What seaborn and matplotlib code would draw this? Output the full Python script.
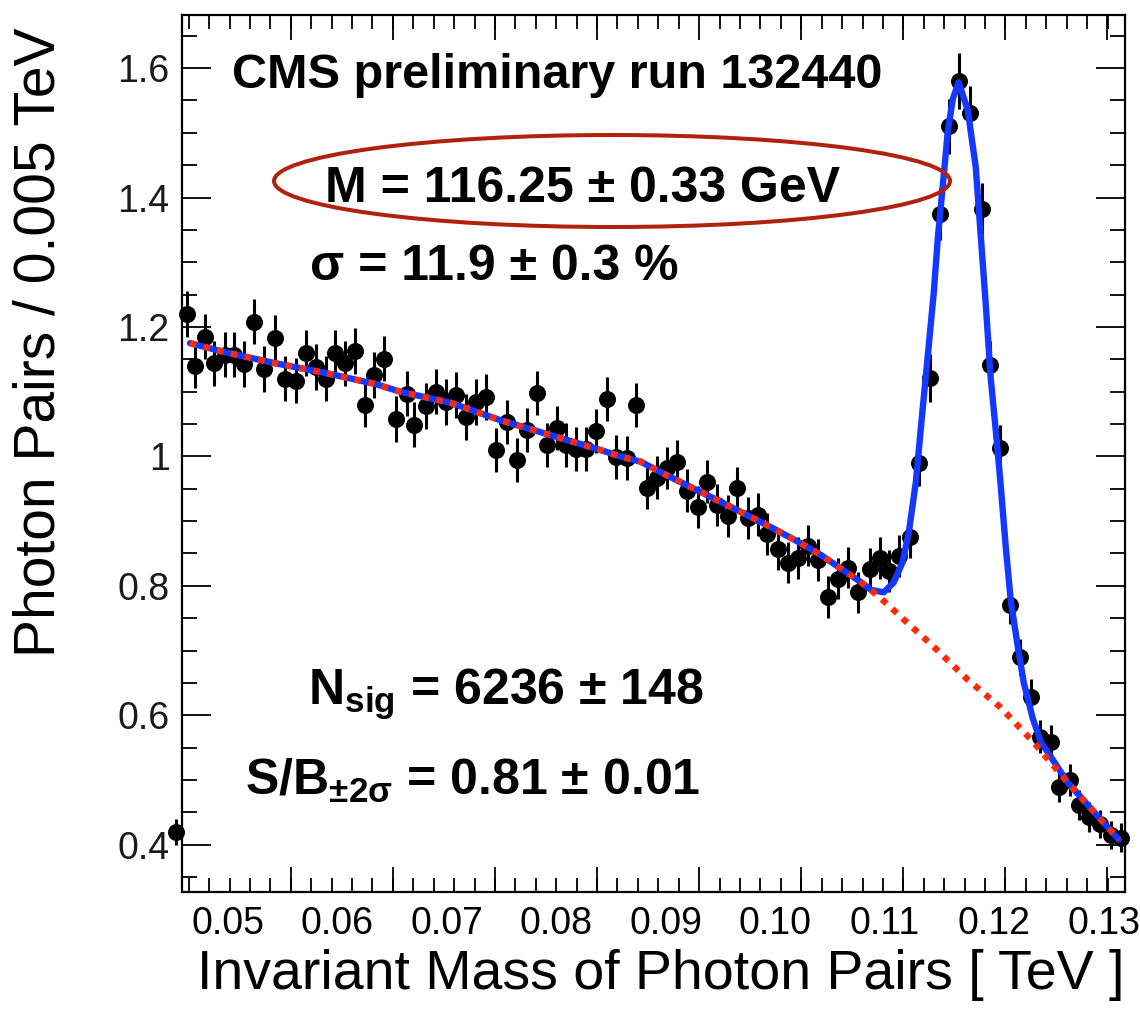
import numpy as np
import pandas as pd
import matplotlib
matplotlib.use("Agg")
import matplotlib.pyplot as plt
from matplotlib.patches import Ellipse
from matplotlib.ticker import FixedLocator, MultipleLocator
from matplotlib import font_manager
import seaborn as sns

# ---------------- data ----------------
mass = [0.04529, 0.04627, 0.04703, 0.04794, 0.04877, 0.04977, 0.05059, 0.05151, 0.05242,
        0.05334, 0.05434, 0.05526, 0.05626, 0.05718, 0.05809, 0.05900, 0.05983, 0.06074,
        0.06165, 0.06257, 0.06339, 0.06431, 0.06540, 0.06641, 0.06705, 0.06814, 0.06906,
        0.06997, 0.07089, 0.07180, 0.07272, 0.07363, 0.07454, 0.07555, 0.07646, 0.07738,
        0.07829, 0.07921, 0.08012, 0.08094, 0.08186, 0.08277, 0.08368, 0.08469, 0.08551,
        0.08652, 0.08734, 0.08835, 0.08926, 0.09017, 0.09109, 0.09200, 0.09292, 0.09383,
        0.09474, 0.09566, 0.09657, 0.09749, 0.09840, 0.09931, 0.10023, 0.10114, 0.10206,
        0.10297, 0.10389, 0.10480, 0.10571, 0.10663, 0.10754, 0.10864, 0.10955, 0.11037,
        0.11129, 0.11229, 0.11312, 0.11412, 0.11504, 0.11586, 0.11677, 0.11778, 0.11888,
        0.11961, 0.12052, 0.12144, 0.12235, 0.12336, 0.12418, 0.12518, 0.12591, 0.12692,
        0.12774, 0.12866, 0.12966, 0.13067, 0.13158]
pairs = [0.420, 1.220, 1.140, 1.185, 1.144, 1.157, 1.157, 1.143, 1.208,
         1.135, 1.183, 1.120, 1.117, 1.160, 1.138, 1.120, 1.160, 1.144,
         1.163, 1.080, 1.126, 1.151, 1.058, 1.097, 1.049, 1.078, 1.100,
         1.084, 1.095, 1.061, 1.084, 1.092, 1.010, 1.053, 0.995, 1.041,
         1.098, 1.018, 1.044, 1.018, 1.012, 1.012, 1.039, 1.089, 0.999,
         0.998, 1.080, 0.951, 0.967, 0.982, 0.992, 0.947, 0.922, 0.961,
         0.925, 0.908, 0.951, 0.905, 0.910, 0.880, 0.857, 0.836, 0.843,
         0.862, 0.840, 0.783, 0.811, 0.828, 0.790, 0.826, 0.843, 0.823,
         0.846, 0.876, 0.990, 1.121, 1.375, 1.510, 1.580, 1.530, 1.382,
         1.142, 1.013, 0.771, 0.690, 0.629, 0.567, 0.559, 0.490, 0.500,
         0.462, 0.443, 0.432, 0.415, 0.411]
pairs_err = [0.020, 0.035, 0.035, 0.035, 0.035, 0.035, 0.035, 0.035, 0.035,
             0.035, 0.035, 0.035, 0.035, 0.035, 0.035, 0.035, 0.035, 0.035,
             0.035, 0.035, 0.035, 0.035, 0.035, 0.035, 0.035, 0.035, 0.035,
             0.035, 0.035, 0.035, 0.035, 0.035, 0.034, 0.034, 0.034, 0.034,
             0.034, 0.034, 0.034, 0.034, 0.034, 0.034, 0.034, 0.034, 0.034,
             0.034, 0.034, 0.033, 0.033, 0.033, 0.033, 0.033, 0.033, 0.033,
             0.033, 0.033, 0.033, 0.033, 0.033, 0.032, 0.032, 0.032, 0.032,
             0.032, 0.032, 0.032, 0.032, 0.032, 0.032, 0.032, 0.032, 0.032,
             0.032, 0.033, 0.035, 0.037, 0.040, 0.042, 0.043, 0.042, 0.040,
             0.037, 0.035, 0.030, 0.028, 0.027, 0.026, 0.026, 0.024, 0.024,
             0.023, 0.023, 0.022, 0.022, 0.022]

# background fit (red dotted)
bg_mass = [0.04657, 0.04977, 0.05434, 0.05891, 0.06348, 0.06577, 0.07034, 0.07491, 0.07948,
           0.08405, 0.08588, 0.08771, 0.09045, 0.09502, 0.09959, 0.10233, 0.10416, 0.10782,
           0.10965, 0.11175, 0.11449, 0.11760, 0.12061, 0.12363, 0.12674, 0.12975, 0.13140]
bg_pairs = [1.175, 1.161, 1.144, 1.129, 1.112, 1.100, 1.083, 1.056, 1.033,
            1.010, 1.000, 0.992, 0.968, 0.930, 0.891, 0.866, 0.848, 0.806,
            0.781, 0.748, 0.706, 0.655, 0.612, 0.558, 0.496, 0.439, 0.408]

# signal + background fit (blue), peak part
peak_mass = [0.10873, 0.10992, 0.11083, 0.11166, 0.11221, 0.11285, 0.11340, 0.11394, 0.11449,
             0.11486, 0.11541, 0.11577, 0.11623, 0.11677, 0.11760, 0.11833, 0.11879, 0.11924,
             0.11970, 0.12016, 0.12061, 0.12107, 0.12153, 0.12217, 0.12272, 0.12354, 0.12427,
             0.12537, 0.12674, 0.12975, 0.13140]
peak_pairs = [0.794, 0.790, 0.805, 0.837, 0.882, 0.959, 1.059, 1.154, 1.252,
              1.336, 1.435, 1.501, 1.552, 1.578, 1.535, 1.447, 1.340, 1.236,
              1.120, 1.040, 0.955, 0.860, 0.777, 0.706, 0.650, 0.595, 0.559,
              0.531, 0.496, 0.439, 0.408]

xtick_pos = [0.05, 0.06, 0.07, 0.08, 0.09, 0.10, 0.11, 0.12, 0.13]
xtick_labels = ["0.05", "0.06", "0.07", "0.08", "0.09", "0.10", "0.11", "0.12", "0.13"]
ytick_pos = [0.4, 0.6, 0.8, 1.0, 1.2, 1.4, 1.6]
ytick_labels = ["0.4", "0.6", "0.8", "1", "1.2", "1.4", "1.6"]
xmark_major = [0.05577, 0.06509, 0.07442, 0.08374, 0.09307, 0.10239, 0.11171, 0.12104, 0.13036]

# ---------------- style ----------------
sns.set_theme(style="ticks")
plt.rcParams["font.family"] = ["Liberation Sans", "DejaVu Sans"]
plt.rcParams["text.color"] = "black"
plt.rcParams["axes.labelcolor"] = "black"
plt.rcParams["xtick.color"] = "black"
plt.rcParams["ytick.color"] = "black"
plt.rcParams["mathtext.fontset"] = "custom"
plt.rcParams["mathtext.rm"] = "Liberation Sans"
plt.rcParams["mathtext.bf"] = "Liberation Sans:bold"
plt.rcParams["mathtext.it"] = "Liberation Sans:italic"
plt.rcParams["mathtext.sf"] = "Liberation Sans"

names = {f.name for f in font_manager.fontManager.ttflist}
narrow = "Liberation Sans Narrow" if "Liberation Sans Narrow" in names else "Liberation Sans"

W, H = 1140, 1013
fig = plt.figure(figsize=(W / 100, H / 100), dpi=100)
L, R, T, B = 182, 1125, 15, 892
ax = fig.add_axes([L / W, 1 - B / H, (R - L) / W, (B - T) / H])

blue = "#1438ff"
red = "#ff2a0a"

df = pd.DataFrame({"mass": mass, "pairs": pairs, "err": pairs_err})
ax.errorbar(df["mass"], df["pairs"], yerr=df["err"], fmt="none", ecolor="black",
            elinewidth=2.2, capsize=0, zorder=2, clip_on=False)
sns.scatterplot(data=df, x="mass", y="pairs", ax=ax, color="black", s=150,
                linewidth=0, zorder=3, clip_on=False, legend=False)

blue_mass = bg_mass[:18] + peak_mass
blue_pairs = bg_pairs[:18] + peak_pairs
sns.lineplot(x=blue_mass, y=blue_pairs, ax=ax, sort=False, estimator=None,
             color=blue, lw=4.6, zorder=4)
sns.lineplot(x=bg_mass, y=bg_pairs, ax=ax, sort=False, estimator=None,
             color=red, lw=4.6, linestyle=(0, (1, 1.2)), zorder=5)

ax.set_xlim(0.04584, 0.13196)
ax.set_ylim(0.327, 1.682)

# axes frame / ticks
for s in ax.spines.values():
    s.set_visible(True)
    s.set_linewidth(1.6)
    s.set_color("black")

ax.xaxis.set_major_locator(FixedLocator(xmark_major))
ax.xaxis.set_minor_locator(FixedLocator(list(np.arange(0.04645, 0.1320, 0.0018648))))
ax.tick_params(axis="x", which="major", direction="in", length=18, width=1.3,
               top=True, bottom=True, labelbottom=False, labeltop=False, color="black")
ax.tick_params(axis="x", which="minor", direction="in", length=10, width=1.3,
               top=True, bottom=True, color="black")

ax.set_yticks(ytick_pos)
ax.set_yticklabels(ytick_labels)
ax.yaxis.set_minor_locator(MultipleLocator(0.05))
ax.tick_params(axis="y", which="major", direction="in", length=21, width=1.3,
               left=True, right=True, labelsize=27, pad=9, color="black", labelcolor="#1a1a1a")
ax.tick_params(axis="y", which="minor", direction="in", length=10.5, width=1.3,
               left=True, right=True, color="black")
ax.set_xlabel("")
ax.set_ylabel("")

sec = ax.secondary_xaxis("bottom")
sec.set_xticks(xtick_pos)
sec.set_xticklabels(xtick_labels, fontfamily=narrow)
sec.tick_params(length=0, labelsize=27, pad=10, labelcolor="black")
sec.spines["bottom"].set_visible(False)

# axis titles
fig.text(40 / W, 1 - 342 / H, "Photon Pairs / 0.005 TeV", rotation=90,
         ha="center", va="center", fontsize=41, color="black")
fig.text(661 / W, 1 - 975 / H, "Invariant Mass of Photon Pairs [ TeV ]",
         ha="center", va="center", fontsize=40, color="black")

# annotations
fig.text(232 / W, 1 - 88 / H, "CMS preliminary run 132440", fontsize=35,
         fontweight="bold", ha="left", va="baseline", color="black")
fig.text(325 / W, 1 - 202 / H, "M = 116.25 ± 0.33 GeV", fontsize=36,
         fontweight="bold", ha="left", va="baseline", color="black")
fig.text(310 / W, 1 - 280 / H, "σ = 11.9 ± 0.3 %", fontsize=36,
         fontweight="bold", ha="left", va="baseline", color="black")
fig.text(308 / W, 1 - 705 / H, r"N$_{\mathbf{sig}}$ = 6236 ± 148", fontsize=36,
         fontweight="bold", ha="left", va="baseline", color="black")
fig.text(245 / W, 1 - 795 / H, r"S/B$_{\mathbf{\pm 2\sigma}}$ = 0.81 ± 0.01", fontsize=36,
         fontweight="bold", ha="left", va="baseline", color="black")

ell = Ellipse((612 / W, 1 - 181 / H), 676 / W, 92 / H, transform=fig.transFigure,
              fill=False, edgecolor="#b0220e", linewidth=2.9)
fig.add_artist(ell)

fig.savefig("out.png", dpi=100)
